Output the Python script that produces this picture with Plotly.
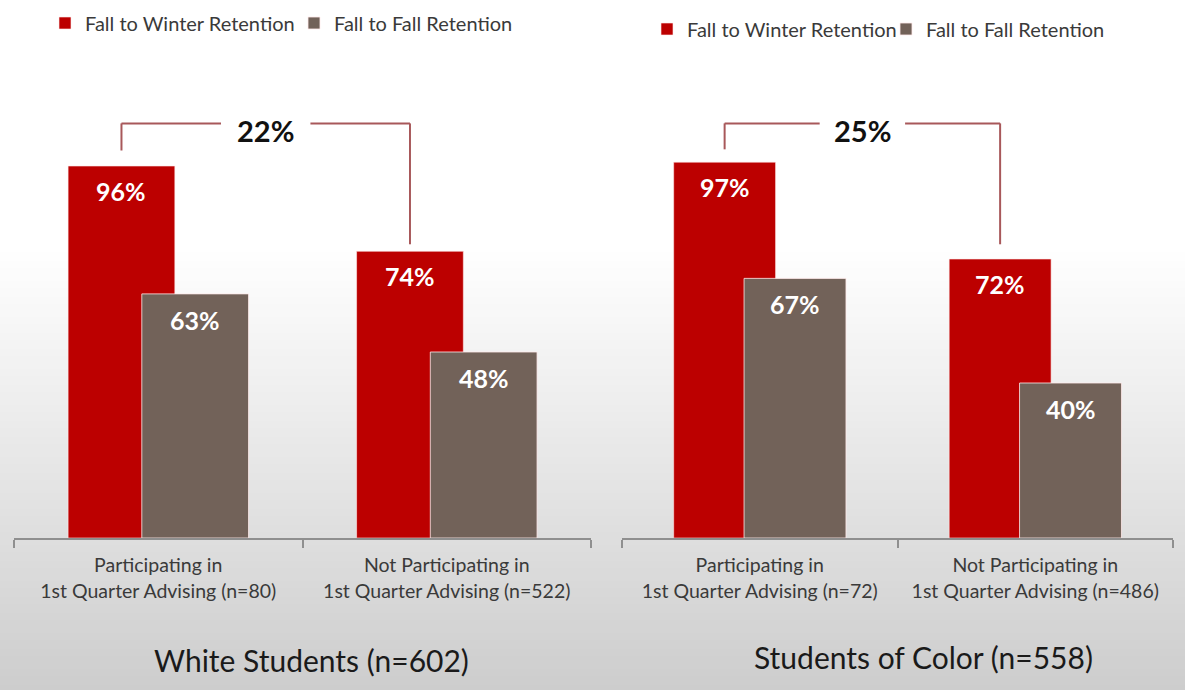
import plotly.graph_objects as go

# ---- data ----
categories_white = ["Participating in<br>1st Quarter Advising (n=80)",
                    "Not Participating in<br>1st Quarter Advising (n=522)"]
categories_color = ["Participating in<br>1st Quarter Advising (n=72)",
                    "Not Participating in<br>1st Quarter Advising (n=486)"]
white_fall_winter = [96, 74]
white_fall_fall = [63, 48]
color_fall_winter = [97, 72]
color_fall_fall = [67, 40]
gap_labels = ["22%", "25%"]
panel_titles = ["White Students (n=602)", "Students of Color (n=558)"]
series_names = ["Fall to Winter Retention", "Fall to Fall Retention"]

RED = "#BC0000"
GREY = "#726259"
TXT = "#3a3a3a"
FONT = "Lato"
W, H = 1185, 690

red_off, red_w = -0.3125, 0.37
grey_off, grey_w = -0.057, 0.37

fig = go.Figure()

panels = [
    ("x", "y", categories_white, white_fall_winter, white_fall_fall, "legend"),
    ("x2", "y2", categories_color, color_fall_winter, color_fall_fall, "legend2"),
]

annotations = []
shapes = []

# background gradient (white to light grey toward the bottom)
top_px, bot_px = 250, 690
steps = 110
for i in range(steps):
    y0p = top_px + (bot_px - top_px) * i / steps
    y1p = top_px + (bot_px - top_px) * (i + 1) / steps
    g = int(round(255 - 50 * (i + 0.5) / steps))
    shapes.append(dict(type="rect", xref="paper", yref="paper", layer="below",
                       x0=0, x1=1, y0=(H - y1p) / H, y1=(H - y0p) / H + 0.002,
                       fillcolor=f"rgb({g},{g},{g})", line=dict(width=0)))

bracket_bottom = [(100.0, 75.8), (100.3, 75.8)]
bracket_top = 107.0
for p, (xa, ya, cats, fw, ff, lg) in enumerate(panels):
    fig.add_trace(go.Bar(x=cats, y=fw, name=series_names[0], xaxis=xa, yaxis=ya,
                         offset=red_off, width=red_w, marker_color=RED,
                         marker_line=dict(color="rgba(255,235,235,0.6)", width=1),
                         legend=lg, hoverinfo="skip"))
    fig.add_trace(go.Bar(x=cats, y=ff, name=series_names[1], xaxis=xa, yaxis=ya,
                         offset=grey_off, width=grey_w, marker_color=GREY,
                         marker_line=dict(color="rgba(255,235,235,0.8)", width=1),
                         legend=lg, hoverinfo="skip"))
    for i in range(len(cats)):
        annotations.append(dict(xref=xa, yref=ya, x=i + red_off + red_w / 2, y=fw[i],
                                text=f"<b>{fw[i]}%</b>", showarrow=False, yanchor="top",
                                yshift=-8, font=dict(family=FONT, size=25, color="white")))
        annotations.append(dict(xref=xa, yref=ya, x=i + grey_off + grey_w / 2, y=ff[i],
                                text=f"<b>{ff[i]}%</b>", showarrow=False, yanchor="top",
                                yshift=-9, font=dict(family=FONT, size=25, color="white")))
    # bracket between the two red bars
    xl = 0 + red_off + red_w / 2
    xr = 1 + red_off + red_w / 2
    xm = (xl + xr) / 2
    half_gap = 0.155
    lc = dict(color="#A8585A", width=2)
    bl, br = bracket_bottom[p]
    shapes.append(dict(type="line", xref=xa, yref=ya, x0=xl, x1=xl, y0=bl, y1=bracket_top, line=lc))
    shapes.append(dict(type="line", xref=xa, yref=ya, x0=xl, x1=xm - half_gap, y0=bracket_top, y1=bracket_top, line=lc))
    shapes.append(dict(type="line", xref=xa, yref=ya, x0=xm + half_gap, x1=xr, y0=bracket_top, y1=bracket_top, line=lc))
    shapes.append(dict(type="line", xref=xa, yref=ya, x0=xr, x1=xr, y0=br, y1=bracket_top, line=lc))
    annotations.append(dict(xref=xa, yref=ya, x=xm, y=bracket_top, text=f"<b>{gap_labels[p]}</b>",
                            showarrow=False, yanchor="middle", yshift=-7,
                            font=dict(family=FONT, size=29, color="#111111")))

annotations.append(dict(xref="paper", yref="paper", x=311 / W, y=(H - 660) / H,
                        text=panel_titles[0], showarrow=False, xanchor="center", yanchor="middle",
                        font=dict(family=FONT, size=30, color="#1a1a1a")))
annotations.append(dict(xref="paper", yref="paper", x=923 / W, y=(H - 657) / H,
                        text=panel_titles[1], showarrow=False, xanchor="center", yanchor="middle",
                        font=dict(family=FONT, size=30, color="#1a1a1a")))

xaxis_common = dict(type="category", range=[-0.5, 1.5], showline=True, linecolor="#8f8f8f",
                    linewidth=1.5, ticks="outside", tickson="boundaries", ticklen=8,
                    tickcolor="#8f8f8f", tickwidth=1.5, showgrid=False, zeroline=False,
                    ticklabelstandoff=9,
                    tickfont=dict(family=FONT, size=19.5, color=TXT), fixedrange=True)
yaxis_common = dict(range=[0, 112], visible=False, showgrid=False, zeroline=False)

fig.update_layout(
    width=W, height=H, autosize=False,
    margin=dict(l=0, r=0, t=0, b=0),
    paper_bgcolor="white", plot_bgcolor="rgba(0,0,0,0)",
    barmode="overlay",
    xaxis=dict(domain=[14 / W, 591 / W], anchor="y", **xaxis_common),
    xaxis2=dict(domain=[622 / W, 1173 / W], anchor="y2", **xaxis_common),
    yaxis=dict(domain=[152 / H, (152 + 112 * 3.875) / H], anchor="x", **yaxis_common),
    yaxis2=dict(domain=[152 / H, (152 + 112 * 3.875) / H], anchor="x2", **yaxis_common),
    legend=dict(orientation="h", x=45 / W, y=(H - 23) / H, xanchor="left", yanchor="middle",
                entrywidth=204, entrywidthmode="pixels", bgcolor="rgba(0,0,0,0)",
                font=dict(family=FONT, size=20, color=TXT)),
    legend2=dict(orientation="h", x=647 / W, y=(H - 29) / H, xanchor="left", yanchor="middle",
                 entrywidth=194, entrywidthmode="pixels", bgcolor="rgba(0,0,0,0)",
                 font=dict(family=FONT, size=20, color=TXT)),
    annotations=annotations,
    shapes=shapes,
    showlegend=True,
)

fig.write_html("out.html", config={"responsive": False, "displayModeBar": False},
               post_script="document.body.style.margin='0';document.body.style.overflow='hidden';")
